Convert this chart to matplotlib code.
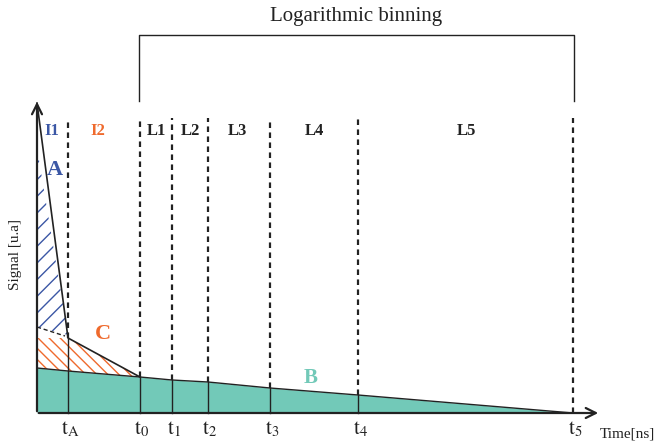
import matplotlib.pyplot as plt
import numpy as np

plt.rcParams['font.family'] = ['Liberation Serif', 'DejaVu Serif']
plt.rcParams['mathtext.fontset'] = 'stix'
plt.rcParams['hatch.linewidth'] = 1.0

# time positions of the bin edges and labels
t_names = ['A', '0', '1', '2', '3', '4', '5']
t_pos = [31, 103, 135, 171, 233, 321, 536]
# slow component B at 0 and at each edge
b_x = [0, 31, 103, 135, 171, 233, 321, 536]
b_y = [45, 42, 36, 33, 31, 25, 18, 0]
# fast components
peak = 310
a_low = 86      # A lower edge at t=0
sig_tA = 75     # signal at tA
sig_t0 = 36     # signal at t0

bins = ['I1', 'I2', 'L1', 'L2', 'L3', 'L4', 'L5']
bin_x = [15, 61, 119, 153, 200, 277, 429]
bin_col = ['#3b57a5', '#ef6a2d', '#222222', '#222222', '#222222', '#222222', '#222222']

blue = '#3b57a5'
orange = '#ef6a2d'
teal = '#72c9b8'

fig = plt.figure(figsize=(6.54, 4.41), dpi=100)
ax = fig.add_axes([0, 0, 1, 1])
ax.set_xlim(-37, 617)
ax.set_ylim(-28, 413)
ax.axis('off')

# B area
ax.fill_between(b_x, 0, b_y, color=teal, lw=0)
ax.plot(b_x, b_y, color='#222222', lw=1)

# A hatched triangle
ax.fill([0, t_pos[0], 0], [peak - 45, sig_tA + 3, a_low], facecolor='none',
        edgecolor=blue, hatch='//', lw=0)
# C hatched region
ax.fill([0, t_pos[0], t_pos[1], t_pos[0], 0],
        [a_low - 11, sig_tA, sig_t0, b_y[1], b_y[0]],
        facecolor='none', edgecolor=orange, hatch='\\\\\\', lw=0)

# outline of the signal
ax.plot([0, t_pos[0], t_pos[1]], [peak, sig_tA, sig_t0], color='#222222', lw=1.2)
ax.plot([0, t_pos[0] - 3], [a_low, sig_tA + 2], color='#222222', lw=1, ls=(0, (3, 2)))

# solid verticals under the curve
tops = [sig_tA] + b_y[2:-1]
for x, top in zip(t_pos[:-1], tops):
    ax.plot([x, x], [0, top], color='#222222', lw=1)

# dashed bin edges
for i, x in enumerate(t_pos):
    bot = tops[i] if i < len(tops) else 0
    ax.plot([x, x], [bot, 295], color='#222222', lw=1.6, ls=(0, (2.5, 2)))

# bracket
ax.plot([t_pos[1] - 1, t_pos[1] - 1, t_pos[-1] + 1, t_pos[-1] + 1],
        [312, 378, 378, 312], color='#222222', lw=1)
ax.text((t_pos[1] + t_pos[-1]) / 2, 396, 'Logarithmic binning', ha='center',
        va='center', fontsize=15, color='#222222')

# axes arrows
ax.annotate('', xy=(0, 314), xytext=(0, -1),
            arrowprops=dict(arrowstyle='->', lw=1.6, color='#222222',
                            mutation_scale=18))
ax.annotate('', xy=(564, 0), xytext=(-1, 0),
            arrowprops=dict(arrowstyle='->', lw=1.6, color='#222222',
                            mutation_scale=18))

# bin labels
for name, x, c in zip(bins, bin_x, bin_col):
    ax.text(x, 282, name, ha='center', va='center', fontsize=12,
            fontweight='bold', color=c)

ax.text(18, 243, 'A', fontsize=16, fontweight='bold', color=blue, ha='center', va='center')
ax.text(66, 79, 'C', fontsize=16, fontweight='bold', color=orange, ha='center', va='center')
ax.text(274, 35, 'B', fontsize=15, fontweight='bold', color=teal, ha='center', va='center')

# tick labels
for name, x in zip(t_names, t_pos):
    ax.text(x + 2, -21, r'$\mathrm{t}_{\mathrm{' + name + '}}$', ha='center',
            va='baseline', fontsize=15, color='#222222')

ax.text(-22, 158, 'Signal [u.a]', rotation=90, ha='center', va='center',
        fontsize=11, color='#222222')
ax.text(590, -21, 'Time[ns]', ha='center', va='center', fontsize=11, color='#222222')

fig.savefig('out.png', dpi=100)
